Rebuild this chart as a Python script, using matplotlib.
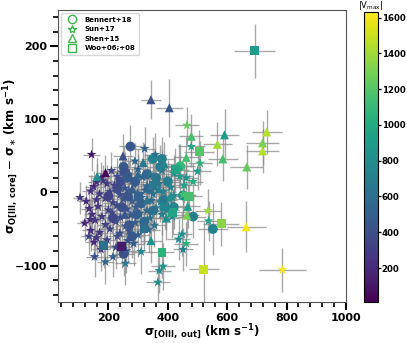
"""
Outflow vs core dispersion, coloured by |Vmax|, four literature samples.
"""
import numpy as np
import matplotlib
matplotlib.use('Agg')
import matplotlib.pyplot as plt
from matplotlib.lines import Line2D

# (sigma_out, delta_sigma, xerr, yerr, |Vmax|)
sun17 = [
    (143, 52, 30, 22, 100), (464, 92, 40, 25, 1250), (479, 63, 45, 28, 950),
    (322, 60, 35, 30, 500), (289, 43, 40, 25, 550), (358, 52, 38, 30, 600),
    (160, 14, 30, 25, 250), (182, 16, 32, 22, 300), (509, 40, 40, 30, 1050),
    (500, 29, 45, 25, 900), (462, 20, 40, 28, 850), (485, 15, 35, 25, 1000),
    (451, -3, 40, 25, 1150), (535, -25, 45, 30, 1400), (537, -39, 40, 28, 950),
    (448, -57, 35, 30, 850), (436, -64, 40, 28, 800), (462, -70, 40, 30, 1050),
    (451, -78, 35, 30, 750), (786, -106, 78, 30, 1600), (384, -101, 40, 32, 850),
    (371, -107, 38, 30, 800), (366, -123, 40, 35, 800), (310, -81, 35, 30, 750),
    (257, -97, 35, 30, 650), (153, -88, 30, 28, 400), (190, -95, 30, 30, 550),
    (215, -88, 32, 28, 500), (151, -68, 30, 25, 200), (134, -60, 28, 25, 350),
    (104, -7, 25, 22, 300), (139, -37, 28, 25, 250),
    (210, 30, 35, 25, 350), (245, 28, 35, 25, 420), (300, 32, 40, 28, 500),
    (340, 25, 40, 25, 600), (380, 30, 45, 28, 700), (420, 26, 45, 25, 800),
    (175, 20, 30, 22, 250), (230, 22, 35, 25, 380), (270, 18, 35, 25, 450),
    (315, 21, 40, 25, 520), (355, 19, 40, 25, 650), (395, 17, 45, 25, 700),
    (440, 22, 45, 28, 900),
    (150, 8, 30, 22, 200), (195, 12, 32, 25, 300), (220, 10, 35, 25, 350),
    (255, 6, 35, 25, 420), (285, 11, 38, 25, 480), (330, 9, 40, 25, 560),
    (370, 12, 40, 25, 650), (410, 7, 45, 28, 750), (455, 10, 45, 25, 950),
    (140, 2, 28, 22, 250), (170, -2, 30, 22, 280), (205, 1, 32, 25, 320),
    (240, -3, 35, 25, 400), (268, 2, 35, 25, 450), (298, -1, 38, 25, 500),
    (325, 3, 40, 25, 550), (350, -2, 40, 25, 620), (385, 1, 42, 28, 700),
    (420, -4, 45, 28, 800),
    (125, -12, 28, 22, 200), (160, -10, 30, 22, 260), (190, -8, 30, 25, 300),
    (215, -14, 32, 25, 350), (250, -9, 35, 25, 420), (280, -12, 38, 25, 470),
    (310, -7, 38, 25, 520), (345, -11, 40, 25, 600), (375, -13, 42, 28, 680),
    (405, -9, 45, 28, 750),
    (135, -22, 28, 22, 220), (165, -19, 30, 22, 270), (200, -24, 32, 25, 330),
    (228, -18, 35, 25, 380), (262, -23, 35, 25, 440), (292, -20, 38, 25, 480),
    (330, -25, 40, 28, 560), (360, -21, 40, 28, 630), (395, -24, 42, 28, 720),
    (145, -30, 28, 25, 240), (178, -33, 30, 25, 290), (212, -28, 32, 25, 350),
    (240, -34, 35, 28, 400), (275, -31, 35, 28, 460), (305, -29, 38, 28, 510),
    (340, -35, 40, 28, 590), (380, -30, 42, 28, 680), (415, -33, 45, 30, 760),
    (120, -42, 25, 25, 180), (155, -38, 30, 25, 250), (190, -44, 30, 28, 310),
    (225, -40, 32, 28, 370), (258, -46, 35, 28, 430), (290, -41, 38, 28, 480),
    (320, -43, 38, 28, 540), (355, -45, 40, 30, 620),
    (140, -52, 28, 28, 220), (170, -55, 30, 28, 270), (205, -50, 32, 28, 330),
    (238, -56, 35, 30, 390), (270, -53, 35, 30, 450), (300, -58, 38, 30, 500),
    (335, -51, 40, 30, 570),
    (160, -62, 30, 28, 260), (195, -65, 30, 30, 320), (230, -60, 32, 30, 380),
    (265, -66, 35, 30, 440), (285, -70, 35, 30, 470),
    (175, -78, 30, 30, 280), (225, -75, 32, 30, 360), (260, -80, 35, 30, 430),
]

bennert18 = [
    (274, 63, 40, 30, 450), (349, 46, 40, 30, 750), (380, 46, 45, 30, 700),
    (251, 35, 35, 28, 450), (257, 27, 35, 28, 420), (442, 36, 50, 30, 1100),
    (451, -4, 45, 30, 850), (485, -33, 45, 30, 700), (552, -50, 50, 35, 750),
    (251, -84, 35, 30, 400),
    (230, 5, 35, 28, 380), (265, -5, 38, 28, 430), (290, 15, 40, 28, 470),
    (310, -15, 40, 28, 500), (335, 5, 40, 28, 560), (360, 20, 42, 28, 620),
    (295, -30, 40, 28, 480), (320, -40, 40, 30, 560), (270, -45, 38, 30, 430),
    (245, -20, 35, 28, 400), (215, -35, 35, 28, 350), (385, -10, 45, 30, 650),
    (400, 15, 45, 30, 700), (350, -25, 42, 28, 600), (420, -20, 45, 30, 750),
    (240, 15, 35, 28, 380), (200, -5, 32, 28, 330), (375, 35, 45, 30, 680),
    (330, 25, 40, 28, 550), (280, -60, 38, 30, 450),
]

shen15 = [
    (343, 127, 35, 27, 400), (405, 116, 45, 40, 450), (479, 77, 40, 30, 1150),
    (249, 50, 35, 30, 420), (317, 41, 35, 28, 650), (388, 39, 40, 30, 750),
    (162, 22, 30, 25, 800), (190, 27, 30, 25, 40), (436, 36, 45, 30, 1000),
    (591, 79, 50, 35, 900), (733, 83, 50, 30, 1450), (719, 68, 55, 30, 1300),
    (719, 57, 55, 30, 1450), (567, 66, 50, 30, 1400), (585, 46, 50, 30, 1150),
    (666, 35, 55, 30, 1250), (462, 48, 40, 28, 1150), (467, -19, 40, 30, 900),
    (464, -31, 40, 30, 1300), (664, -47, 65, 35, 1600), (343, -66, 38, 30, 850),
    (280, 5, 38, 28, 500), (330, -10, 40, 28, 620), (370, 5, 42, 28, 700),
    (410, -5, 45, 30, 850), (300, 25, 40, 28, 550), (395, -35, 45, 30, 800),
    (255, -30, 35, 28, 450),
]

woo0608 = [
    (692, 194, 70, 37, 900), (506, 56, 50, 30, 1200), (425, 31, 45, 30, 950),
    (470, -5, 45, 30, 1150), (417, -27, 45, 30, 950), (580, -43, 60, 30, 1350),
    (521, -105, 50, 64, 1500), (380, -82, 40, 35, 1050), (244, -74, 35, 30, 120),
    (184, -73, 30, 30, 600),
    (300, -5, 38, 28, 520), (350, 10, 40, 28, 650), (265, 20, 35, 28, 460),
    (390, -20, 42, 30, 750), (320, -50, 40, 30, 600),
]

samples = [
    ('Bennert+18', bennert18, 'o', 50),
    ('Sun+17', sun17, '*', 55),
    ('Shen+15', shen15, '^', 42),
    ('Woo+06;+08', woo0608, 's', 40),
]

fig = plt.figure(figsize=(4.07, 3.43), dpi=100)
ax = fig.add_axes([0.1425, 0.1195, 0.7075, 0.8515])
cax = fig.add_axes([0.894, 0.1195, 0.035, 0.845])

norm = plt.Normalize(10, 1630)
sc = None
for name, rows, marker, size in samples:
    arr = np.array(rows, dtype=float)
    x, y, xe, ye, v = arr.T
    ax.errorbar(x, y, xerr=xe, yerr=ye, fmt='none', ecolor='#8c8c8c',
                elinewidth=1.0, alpha=0.75, zorder=1)
    sc = ax.scatter(x, y, c=v, cmap='viridis', norm=norm, marker=marker,
                    s=size, edgecolors='none', zorder=3)

ax.set_xlim(30, 1000)
ax.set_ylim(-150, 250)
ax.set_xticks([200, 400, 600, 800, 1000])
ax.set_xticks(np.arange(40, 1001, 40), minor=True)
ax.set_yticks([-100, 0, 100, 200])
ax.set_yticks(np.arange(-140, 241, 20), minor=True)
ax.tick_params(which='major', length=6, width=1.5, labelsize=8, pad=2)
ax.tick_params(which='minor', length=3.5, width=1.2)
for lab in ax.get_xticklabels() + ax.get_yticklabels():
    lab.set_fontweight('bold')
for sp in ax.spines.values():
    sp.set_color('#555555')

ax.set_xlabel(r'σ$_{\mathbf{[OIII,\ out]}}$ (km s$^{\mathbf{-1}}$)',
              fontsize=8.5, fontweight='bold')
ax.set_ylabel(r'σ$_{\mathbf{O[III,\ core]}}$ $-$ σ$_{\ast}$ (km s$^{\mathbf{-1}}$)',
              fontsize=8.5, fontweight='bold')
ax.xaxis.set_label_coords(0.5, -0.07)
ax.yaxis.set_label_coords(-0.13, 0.5)

handles = [Line2D([], [], marker=m, linestyle='none', markerfacecolor='none',
                  markeredgecolor='#3cb44b', markersize=6, label=n)
           for n, _, m, _ in samples]
ax.legend(handles=handles, loc='upper left',
          prop={'weight': 'bold', 'size': 5}, handletextpad=0.8,
          borderpad=0.5, labelspacing=0.5)

cb = fig.colorbar(sc, cax=cax)
cb.set_ticks([200, 400, 600, 800, 1000, 1200, 1400, 1600])
cb.ax.tick_params(labelsize=6.2, width=1.0, length=2, pad=0.5)
for lab in cb.ax.get_yticklabels():
    lab.set_fontweight('bold')
cb.ax.set_title(r'|V$_{\rm max}$|', fontsize=6, pad=2)

plt.savefig('out.png', dpi=100)
